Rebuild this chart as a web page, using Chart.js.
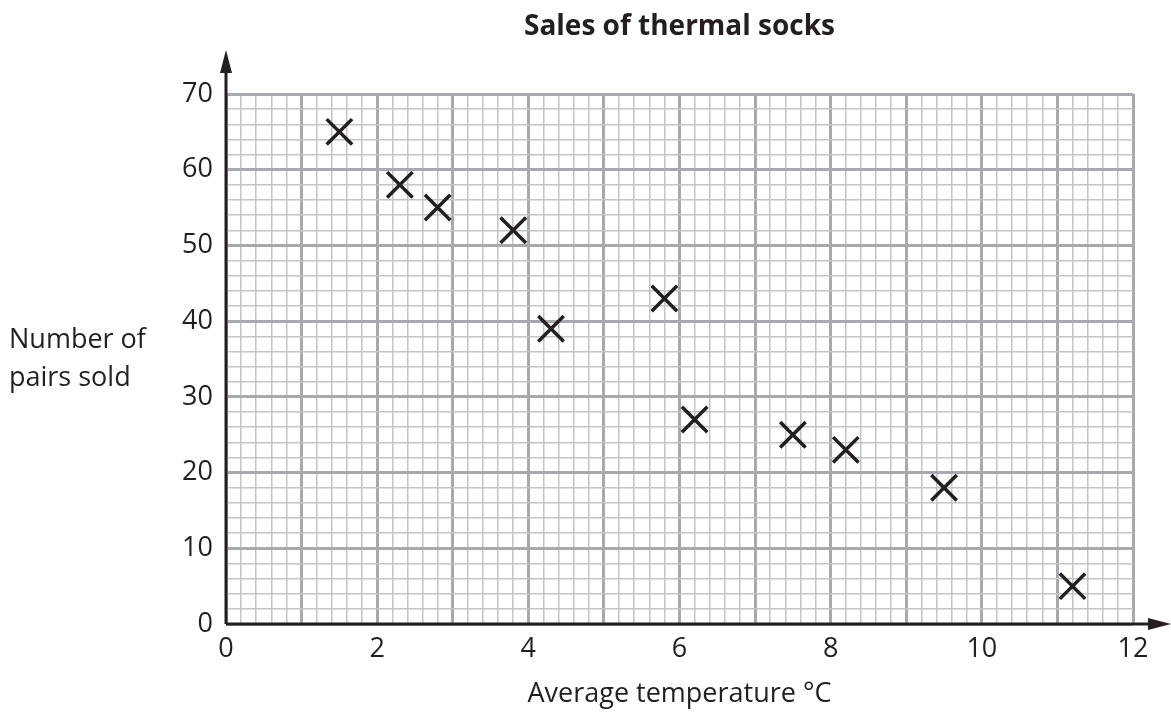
<!DOCTYPE html>
<html>
<head>
<meta charset="utf-8">
<script src="https://cdn.jsdelivr.net/npm/chart.js@4"></script>
<style>
  body { margin: 0; background: #fff; }
  #wrap { width: 1171px; height: 715px; }
</style>
</head>
<body>
<div id="wrap"><canvas id="grafico" width="1171" height="715"></canvas></div>
<script>
const temperaturas = [1.5, 2.3, 2.8, 3.8, 4.3, 5.8, 6.2, 7.5, 8.2, 9.5, 11.2];
const paresVendidos = [65, 58, 55, 52, 39, 43, 27, 25, 23, 18, 5];
const xTicks = [0, 2, 4, 6, 8, 10, 12];
const yTicks = [0, 10, 20, 30, 40, 50, 60, 70];

const TITULO = 'Sales of thermal socks';
const TITULO_X = 'Average temperature °C';
const TITULO_Y = ['Number of', 'pairs sold'];

const TINTA = '#231f20';
const FONTE = "'Open Sans', sans-serif";

const quase = (a, b) => Math.abs(a - b) < 1e-6;
const ehMajor = (v, passo) => quase(v / passo, Math.round(v / passo));

// desenha eixos com setas, titulo e rotulos fora do grafico
const eixosPlugin = {
  id: 'eixos',
  afterDraw(chart) {
    const { ctx, chartArea: a } = chart;
    const W = chart.width;
    ctx.save();
    ctx.strokeStyle = TINTA;
    ctx.fillStyle = TINTA;
    ctx.lineWidth = 3;
    ctx.beginPath();
    ctx.moveTo(a.left, a.bottom);
    ctx.lineTo(a.left, 66);
    ctx.moveTo(a.left, a.bottom);
    ctx.lineTo(W - 16, a.bottom);
    ctx.stroke();

    ctx.beginPath();
    ctx.moveTo(a.left, 50);
    ctx.lineTo(a.left - 6, 73);
    ctx.lineTo(a.left + 6, 73);
    ctx.closePath();
    ctx.fill();

    ctx.beginPath();
    ctx.moveTo(W, a.bottom);
    ctx.lineTo(W - 23, a.bottom - 6);
    ctx.lineTo(W - 23, a.bottom + 6);
    ctx.closePath();
    ctx.fill();

    const cx = (a.left + a.right) / 2;
    ctx.textBaseline = 'alphabetic';
    ctx.textAlign = 'center';
    ctx.font = `bold 28px ${FONTE}`;
    ctx.fillText(TITULO, cx, 35);

    ctx.font = `27px ${FONTE}`;
    ctx.fillText(TITULO_X, cx, 702);

    ctx.textAlign = 'left';
    TITULO_Y.forEach((linha, k) => ctx.fillText(linha, 9, 348 + k * 38));
    ctx.restore();
  },
};

new Chart(document.getElementById('grafico'), {
  type: 'scatter',
  data: {
    datasets: [{
      data: temperaturas.map((t, k) => ({ x: t, y: paresVendidos[k] })),
      pointStyle: 'crossRot',
      pointRadius: 18,
      pointHoverRadius: 18,
      borderColor: TINTA,
      backgroundColor: TINTA,
      borderWidth: 3.5,
      pointBorderWidth: 3.5,
    }],
  },
  options: {
    responsive: false,
    animation: false,
    layout: { padding: { left: 0, top: 94, right: 38, bottom: 0 } },
    plugins: {
      legend: { display: false },
      tooltip: { enabled: false },
    },
    scales: {
      x: {
        type: 'linear',
        min: xTicks[0],
        max: xTicks[xTicks.length - 1],
        afterFit: s => { s.height = 91; },
        border: { display: false },
        grid: {
          drawTicks: false,
          color: c => ehMajor(c.tick.value, 1) ? '#a7a9ac' : '#c2c4c6',
          lineWidth: c => ehMajor(c.tick.value, 1) ? 3 : 1.5,
        },
        ticks: {
          stepSize: 0.2,
          autoSkip: false,
          maxRotation: 0,
          padding: 9,
          color: TINTA,
          font: { family: FONTE, size: 27 },
          callback: v => xTicks.some(t => quase(t, v)) ? String(Math.round(v)) : '',
        },
      },
      y: {
        type: 'linear',
        min: yTicks[0],
        max: yTicks[yTicks.length - 1],
        afterFit: s => { s.width = 226; },
        border: { display: false },
        grid: {
          drawTicks: false,
          color: c => ehMajor(c.tick.value, 10) ? '#a7a9ac' : '#c2c4c6',
          lineWidth: c => ehMajor(c.tick.value, 10) ? 3 : 1.5,
        },
        ticks: {
          stepSize: 2,
          autoSkip: false,
          padding: 13,
          color: TINTA,
          font: { family: FONTE, size: 27 },
          callback: v => yTicks.some(t => quase(t, v)) ? String(Math.round(v)) : '',
        },
      },
    },
  },
  plugins: [eixosPlugin],
});
</script>
</body>
</html>
